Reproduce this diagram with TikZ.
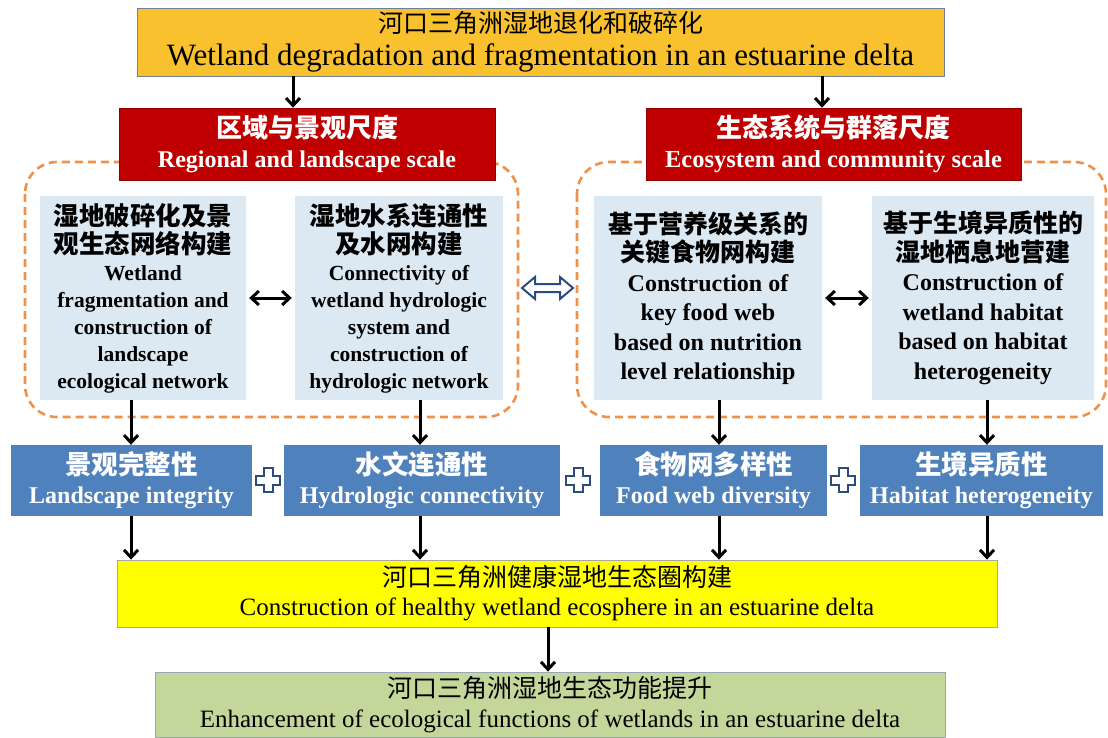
\documentclass[tikz,border=0pt]{standalone}
\usepackage{fontspec}
\setmainfont{Liberation Serif}
\newfontfamily\cjk{Noto Sans CJK SC}
\usetikzlibrary{arrows.meta}
\definecolor{topgold}{HTML}{F9C12E}
\definecolor{framegray}{HTML}{6F7F99}
\definecolor{scalered}{HTML}{C00000}
\definecolor{lightblue}{HTML}{DCE9F2}
\definecolor{boxblue}{HTML}{4F81BD}
\definecolor{yellowbox}{HTML}{FFFF00}
\definecolor{greenbox}{HTML}{C4D79B}
\definecolor{dashorange}{HTML}{F0914A}
\definecolor{navy}{HTML}{2B4C80}
\begin{document}
\begin{tikzpicture}[x=1pt,y=-1pt,
  every node/.style={inner sep=0pt, align=center},
  topbox/.style={draw=framegray, line width=0.8pt, fill=topgold},
  redbox/.style={fill=scalered, draw=scalered!75!black, line width=0.6pt, text=white, font=\fontsize{24}{30}\selectfont\bfseries},
  lbboxL/.style={fill=lightblue, font=\fontsize{21.5}{27}\selectfont\bfseries},
  lbboxR/.style={fill=lightblue, font=\fontsize{24}{29.5}\selectfont\bfseries},
  bluebox/.style={fill=boxblue, text=white, minimum height=71pt, font=\fontsize{24}{29}\selectfont\bfseries},
  yelbox/.style={fill=yellowbox, draw=gray!70, line width=0.8pt, font=\fontsize{25}{29}\selectfont},
  grnbox/.style={fill=greenbox, draw=framegray!70, line width=0.8pt, font=\fontsize{25}{30}\selectfont},
  scaleframe/.style={draw=dashorange, line width=2.6pt, dash pattern=on 8pt off 5pt, rounded corners=32pt},
  barb/.tip={Straight Barb[length=7.5pt,width=14pt,line width=3pt]},
  arr/.style={-barb, line width=3pt},
  dblarr/.style={barb-barb, line width=3pt},
  plusmark/.style={draw=navy, fill=white, line width=2pt, line join=miter}
]
\useasboundingbox (0,0) rectangle (1108,738);
\fill[white] (0,0) rectangle (1108,738);

% dashed scale frames
\draw[scaleframe] (25,162) rectangle (518,417);
\draw[scaleframe] (577,162) rectangle (1106,417);

% top box
\node[topbox, minimum width=807pt, minimum height=68pt, font=\fontsize{25}{33}\selectfont] (top) at (540.5,42)
  {{\cjk 河口三角洲湿地退化和破碎化}\\{\fontsize{31}{33}\selectfont Wetland degradation and fragmentation in an estuarine delta}};

% red scale boxes
\node[redbox, minimum width=376pt, minimum height=72pt] (redL) at (307,144)
  {{\cjk\bfseries\fontsize{26}{30}\selectfont 区域与景观尺度}\\Regional and landscape scale};
\node[redbox, minimum width=375pt, minimum height=72pt] (redR) at (833.5,144)
  {{\cjk\bfseries\fontsize{26}{30}\selectfont 生态系统与群落尺度}\\{\fontsize{24.5}{30}\selectfont Ecosystem and community scale}};

% light blue boxes
\node[lbboxL, minimum width=206pt, minimum height=204pt] (L1) at (143,298)
  {{\cjk\fontsize{25.5}{27}\selectfont 湿地破碎化及景}\\[1pt]{\cjk\fontsize{25.5}{27}\selectfont 观生态网络构建}\\Wetland\\fragmentation and\\construction of\\landscape\\ecological network};
\node[lbboxL, minimum width=208pt, minimum height=204pt] (L2) at (399,298)
  {{\cjk\fontsize{25.5}{27}\selectfont 湿地水系连通性}\\[1pt]{\cjk\fontsize{25.5}{27}\selectfont 及水网构建}\\Connectivity of\\wetland hydrologic\\system and\\construction of\\hydrologic network};
\node[lbboxR, minimum width=228pt, minimum height=204pt] (R1) at (708,298)
  {{\cjk\fontsize{25}{29}\selectfont 基于营养级关系的}\\[-1pt]{\cjk\fontsize{25}{29}\selectfont 关键食物网构建}\\Construction of\\key food web\\based on nutrition\\level relationship};
\node[lbboxR, minimum width=222pt, minimum height=204pt] (R2) at (983,298)
  {{\cjk\fontsize{25}{29}\selectfont 基于生境异质性的}\\[-1pt]{\cjk\fontsize{25}{29}\selectfont 湿地栖息地营建}\\Construction of\\wetland habitat\\based on habitat\\heterogeneity};

% blue result boxes
\node[bluebox, minimum width=241pt] (B1) at (131.5,480.5) {{\cjk\bfseries\fontsize{26.5}{29}\selectfont 景观完整性}\\Landscape integrity};
\node[bluebox, minimum width=276pt] (B2) at (422,480.5) {{\cjk\bfseries\fontsize{26.5}{29}\selectfont 水文连通性}\\Hydrologic connectivity};
\node[bluebox, minimum width=227pt] (B3) at (713.5,480.5) {{\cjk\bfseries\fontsize{26.5}{29}\selectfont 食物网多样性}\\Food web diversity};
\node[bluebox, minimum width=243pt] (B4) at (981.5,480.5) {{\cjk\bfseries\fontsize{26.5}{29}\selectfont 生境异质性}\\Habitat heterogeneity};

% yellow and green boxes
\node[yelbox, minimum width=880pt, minimum height=67pt] (Y) at (557,593.5)
  {{\cjk 河口三角洲健康湿地生态圈构建}\\Construction of healthy wetland ecosphere in an estuarine delta};
\node[grnbox, minimum width=790pt, minimum height=65pt] (G) at (550,704.5)
  {{\cjk 河口三角洲湿地生态功能提升}\\Enhancement of ecological functions of wetlands in an estuarine delta};

% x positions of vertical connectors
\coordinate (xa) at (293,0);
\coordinate (xb) at (822,0);
\coordinate (x1) at (131,0);
\coordinate (x2) at (420,0);
\coordinate (x3) at (719,0);
\coordinate (x4) at (987,0);
\coordinate (x5) at (548,0);

% connectors
\draw[arr] (top.south -| xa) -- (redL.north -| xa);
\draw[arr] (top.south -| xb) -- (redR.north -| xb);
\draw[dblarr] ([xshift=3pt]L1.east) -- ([xshift=-3pt]L2.west);
\draw[dblarr] ([xshift=3pt]R1.east) -- ([xshift=-3pt]R2.west);
\draw[arr] (L1.south -| x1) -- (B1.north -| x1);
\draw[arr] (L2.south -| x2) -- (B2.north -| x2);
\draw[arr] (R1.south -| x3) -- (B3.north -| x3);
\draw[arr] (R2.south -| x4) -- (B4.north -| x4);
\draw[arr] (B1.south -| x1) -- (Y.north -| x1);
\draw[arr] (B2.south -| x2) -- (Y.north -| x2);
\draw[arr] (B3.south -| x3) -- (Y.north -| x3);
\draw[arr] (B4.south -| x4) -- (Y.north -| x4);
\draw[arr] (Y.south -| x5) -- (G.north -| x5);

% hollow double arrow between the two scales
\draw[draw=navy, fill=white, line width=2pt, line join=miter]
  (522,288) -- (535,277) -- (535,284) -- (560,284) -- (560,277) -- (573,288)
  -- (560,299) -- (560,292) -- (535,292) -- (535,299) -- cycle;

% plus signs
\foreach \cx in {268,578,843}{
  \draw[plusmark] (\cx-4.5,468) -- (\cx+4.5,468) -- (\cx+4.5,475.5) -- (\cx+12,475.5)
    -- (\cx+12,484.5) -- (\cx+4.5,484.5) -- (\cx+4.5,492) -- (\cx-4.5,492)
    -- (\cx-4.5,484.5) -- (\cx-12,484.5) -- (\cx-12,475.5) -- (\cx-4.5,475.5) -- cycle;
}
\end{tikzpicture}
\end{document}
